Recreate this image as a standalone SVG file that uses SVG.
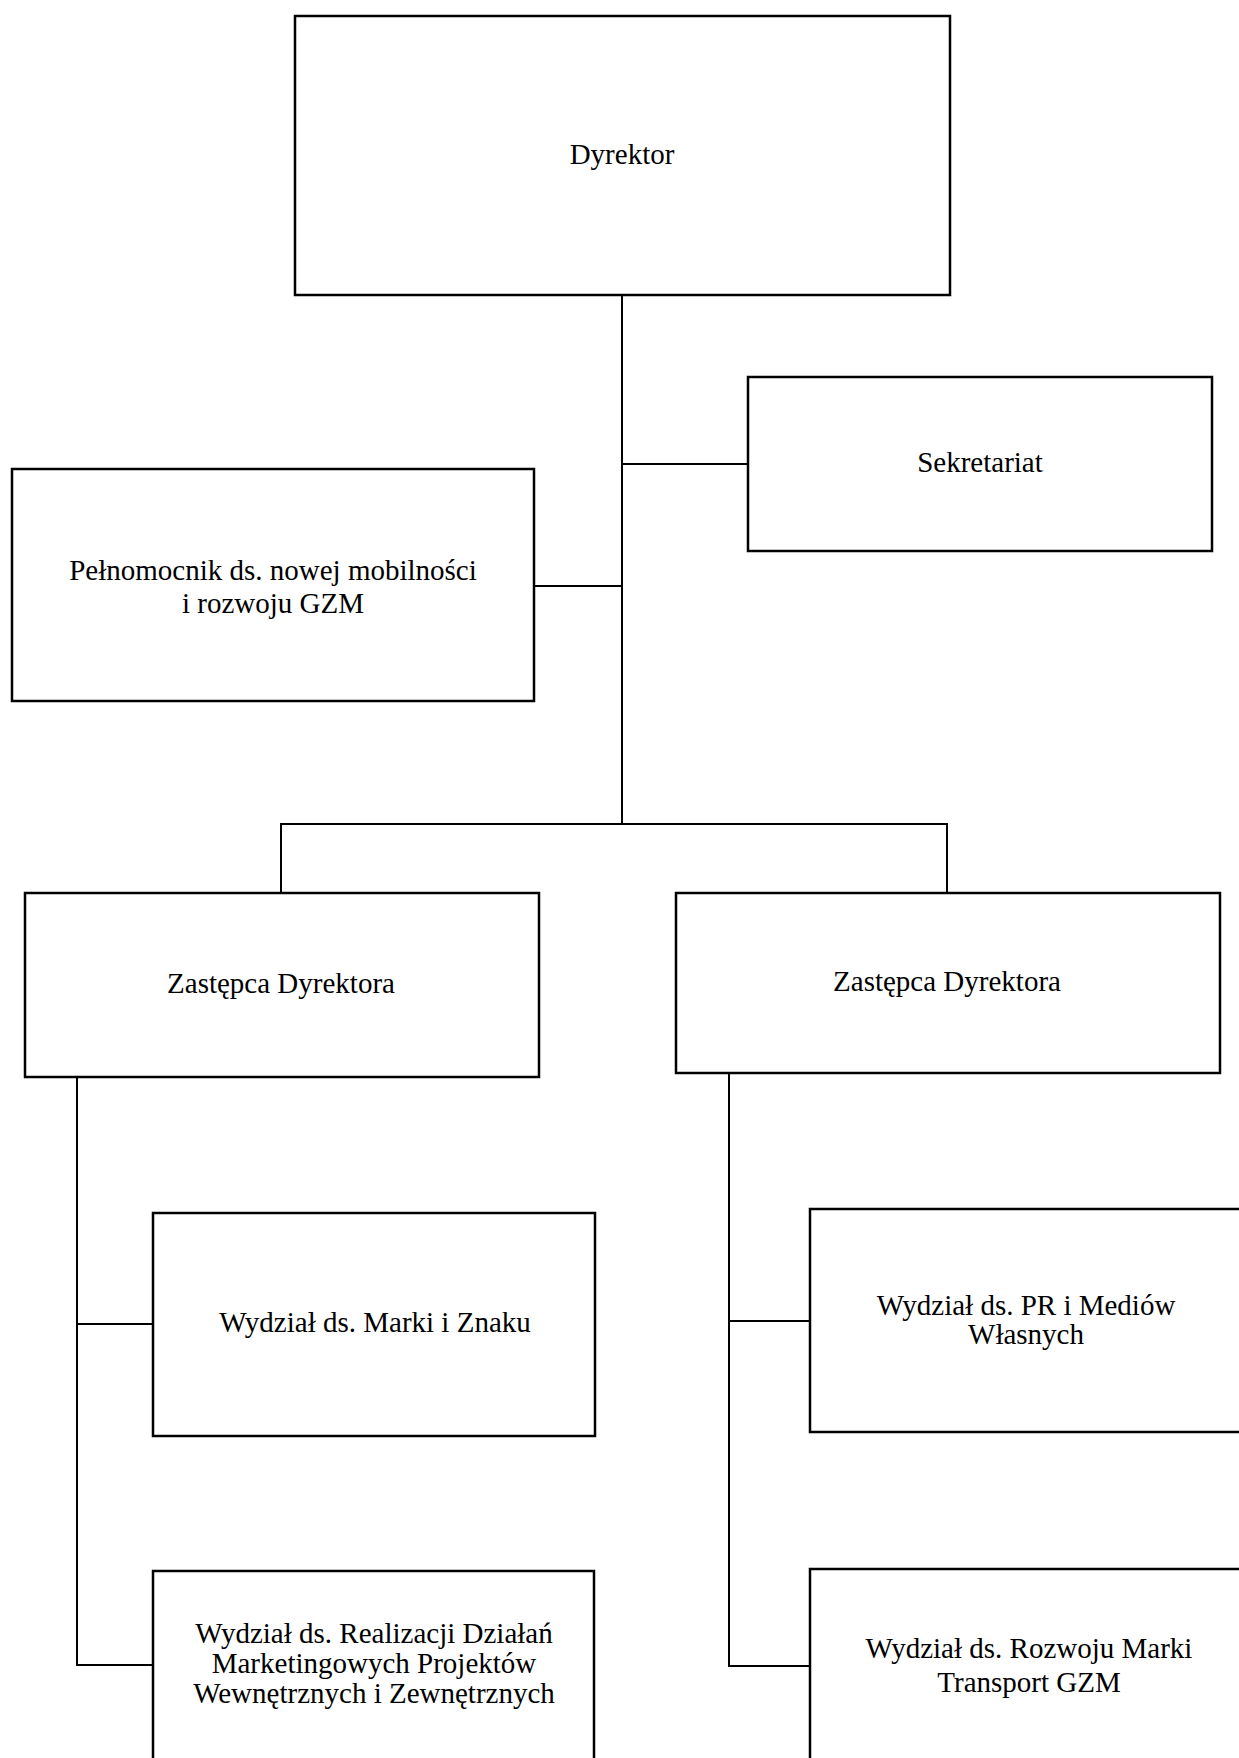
<svg xmlns="http://www.w3.org/2000/svg" width="1239" height="1758" viewBox="0 0 1239 1758">
<style>
.box{fill:#fff;stroke:#000;stroke-width:2.5}
.ln{fill:none;stroke:#000;stroke-width:2}
text{font-family:"Liberation Serif","Times New Roman",serif;font-size:29px;fill:#000;text-anchor:middle}
</style>
<rect width="1239" height="1758" fill="#fff"/>
<g id="connectors">
<path class="ln" d="M622 295V824"/>
<path class="ln" d="M622 464H748"/>
<path class="ln" d="M534 586H622"/>
<path class="ln" d="M281 893V824H947V893"/>
<path class="ln" d="M77 1077V1665H153"/>
<path class="ln" d="M77 1324H153"/>
<path class="ln" d="M729 1073V1666H810"/>
<path class="ln" d="M729 1321H810"/>
</g>
<g id="dyrektor"><rect class="box" x="295" y="16" width="655" height="279"/><text x="622" y="164">Dyrektor</text></g>
<g id="sekretariat"><rect class="box" x="748" y="377" width="464" height="174"/><text x="980" y="472">Sekretariat</text></g>
<g id="pelnomocnik"><rect class="box" x="12" y="469" width="522" height="232"/><text x="273" y="580">Pełnomocnik ds. nowej mobilności</text><text x="273" y="613">i rozwoju GZM</text></g>
<g id="zastepca1"><rect class="box" x="25" y="893" width="514" height="184"/><text x="281" y="993">Zastępca Dyrektora</text></g>
<g id="zastepca2"><rect class="box" x="676" y="893" width="544" height="180"/><text x="947" y="991">Zastępca Dyrektora</text></g>
<g id="marki"><rect class="box" x="153" y="1213" width="442" height="223"/><text x="375" y="1332">Wydział ds. Marki i Znaku</text></g>
<g id="pr"><rect class="box" x="810" y="1209" width="460" height="223"/><text x="1026" y="1315">Wydział ds. PR i Mediów</text><text x="1026" y="1344">Własnych</text></g>
<g id="realizacji"><rect class="box" x="153" y="1571" width="441" height="220"/><text x="374" y="1643">Wydział ds. Realizacji Działań</text><text x="374" y="1673">Marketingowych Projektów</text><text x="374" y="1703">Wewnętrznych i Zewnętrznych</text></g>
<g id="rozwoju"><rect class="box" x="810" y="1569" width="460" height="220"/><text x="1029" y="1658">Wydział ds. Rozwoju Marki</text><text x="1029" y="1692">Transport GZM</text></g>
</svg>
